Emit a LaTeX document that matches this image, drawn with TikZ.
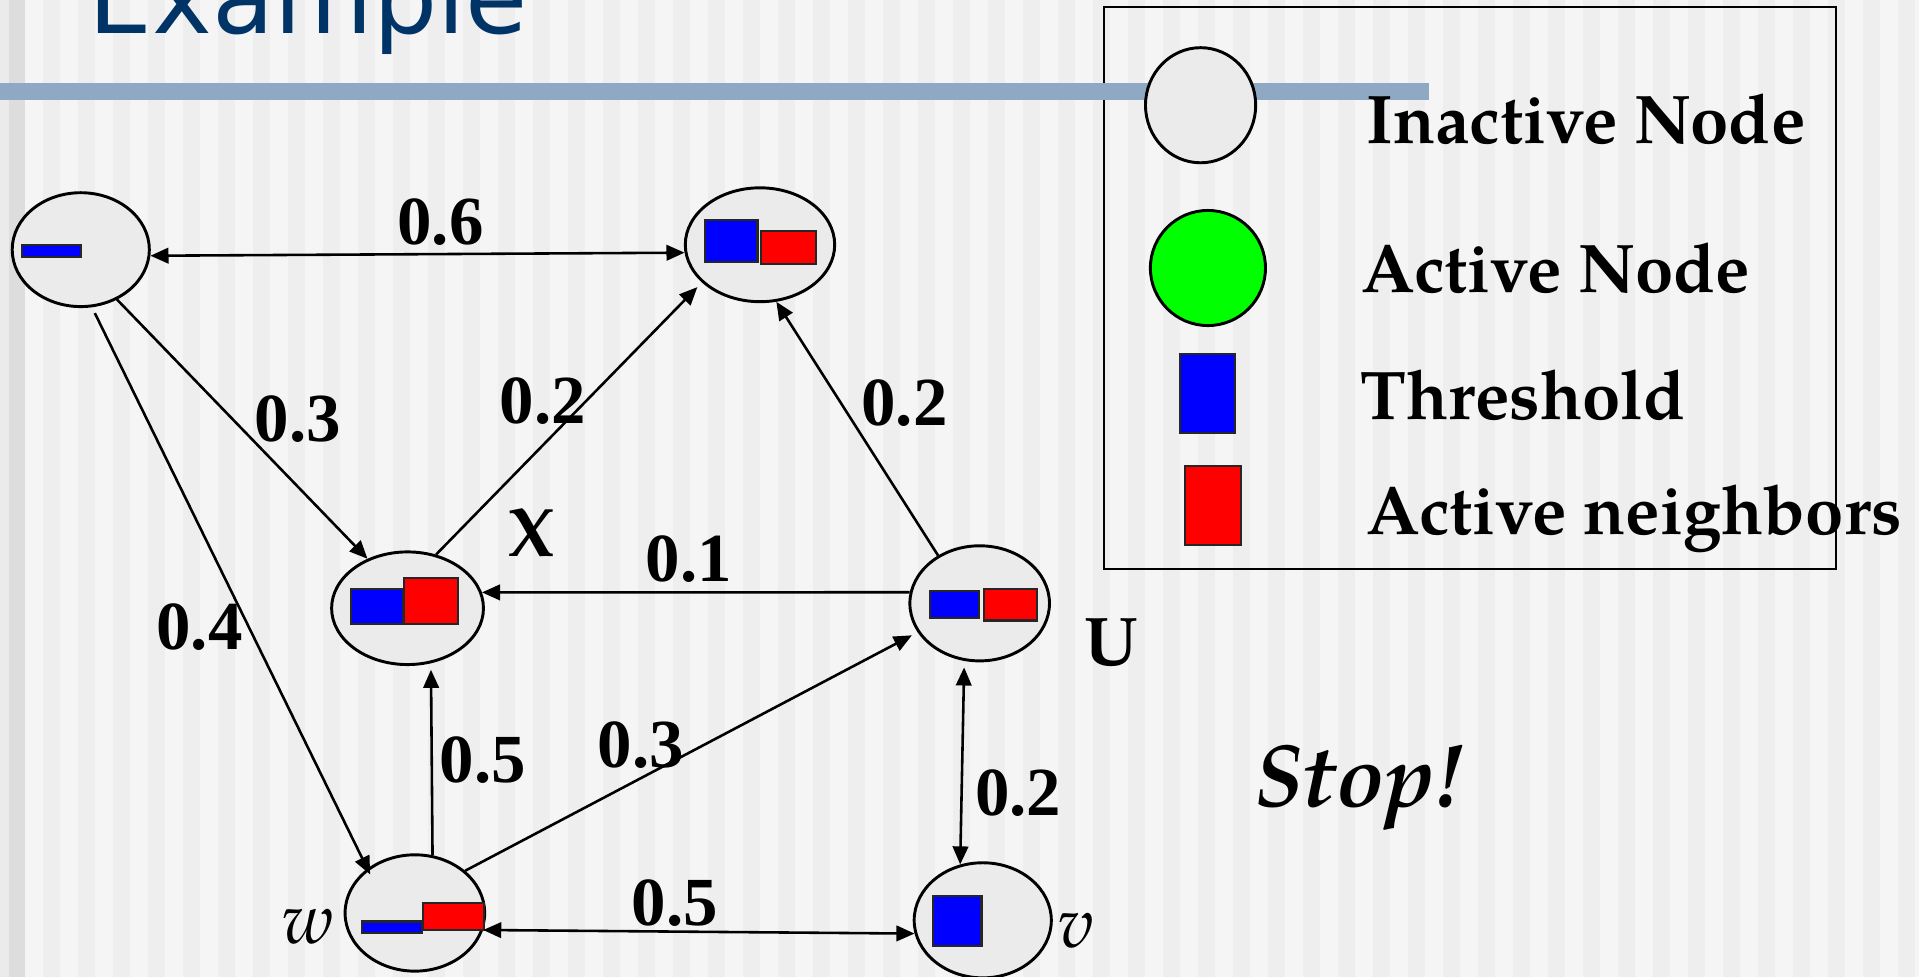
\documentclass[tikz,border=0pt]{standalone}
\usepackage{fontspec}
\setmainfont{texgyrepagella}[Extension=.otf,UprightFont=*-regular,BoldFont=*-bold,ItalicFont=*-italic,BoldItalicFont=*-bolditalic]
\newfontfamily\numfont{Liberation Serif}
\newfontfamily\titlefont{DejaVu Sans}
\usetikzlibrary{shapes.geometric,arrows.meta}
\definecolor{bgbase}{HTML}{F5F5F5}
\definecolor{bgstripe}{HTML}{EEEEEE}
\definecolor{bandA}{HTML}{EBEBEB}
\definecolor{bandB}{HTML}{DDDDDD}
\definecolor{titleblue}{HTML}{003366}
\definecolor{barblue}{HTML}{8FA9C4}
\definecolor{nodegray}{HTML}{EBEBEB}
\definecolor{actgreen}{HTML}{00FF00}
\tikzset{
  gnode/.style={ellipse, draw=black, line width=0.68pt, fill=nodegray, inner sep=0pt},
  edge/.style={line width=0.6pt, -{Triangle[length=4.2pt,width=3.6pt]}},
  bedge/.style={line width=0.6pt, {Triangle[length=4.2pt,width=3.6pt]}-{Triangle[length=4.2pt,width=3.6pt]}},
  wlabel/.style={font=\numfont\bfseries\fontsize{16}{18}\selectfont, anchor=base, inner sep=0pt},
  txt/.style={font=\bfseries\fontsize{16}{18}\selectfont, anchor=base west, inner sep=0pt},
  thr/.style={draw=black!85, line width=0.5pt, fill=blue},
  act/.style={draw=black!85, line width=0.5pt, fill=red},
}
\begin{document}
\begin{tikzpicture}[x=0.01cm,y=-0.01cm]
\useasboundingbox (0,0) rectangle (1568,798);
\clip (0,0) rectangle (1568,798);
% background
\fill[bgbase] (0,0) rectangle (1568,798);
\foreach \i in {0,...,54} \fill[bgstripe] ({35+28.6*\i},0) rectangle ++(14.3,798);
\fill[bandA] (0,0) rectangle (7.4,798);
\fill[bandB] (7.4,0) rectangle (20.4,798);
% title
\node[font=\titlefont\fontsize{23.5}{28}\selectfont, text=titleblue, anchor=base west, inner sep=0pt] (title) at (72,27) {Example};
% legend frame
\draw[line width=0.5pt] (902,6) rectangle (1500,465);
% title bar
\fill[barblue] (0,67.5) rectangle (1168,81.7);
% legend
\node[gnode, minimum width=0.90cm, minimum height=0.94cm] (LI) at (981,86) {};
\node[ellipse, draw=black, line width=0.68pt, fill=actgreen, inner sep=0pt, minimum width=0.94cm, minimum height=0.94cm] (LA) at (987,219) {};
\draw[thr] (964,289) rectangle (1009,354);
\draw[act] (968,381) rectangle (1014,445);
\node[txt] (tI) at (1116,117) {Inactive Node};
\node[txt] (tA) at (1112,239) {Active Node};
\node[txt] (tT) at (1111,343) {Threshold};
\node[txt] (tN) at (1116,437) {Active neighbors};
% graph nodes
\node[gnode, minimum width=1.12cm, minimum height=0.93cm] (A) at (66,204) {};
\node[gnode, minimum width=1.22cm, minimum height=0.93cm] (B) at (621,200) {};
\node[gnode, minimum width=1.24cm, minimum height=0.92cm] (X) at (333,497) {};
\node[gnode, minimum width=1.14cm, minimum height=0.94cm] (U) at (800.5,493) {};
\node[gnode, minimum width=1.14cm, minimum height=0.95cm] (W) at (339,746) {};
\node[gnode, minimum width=1.12cm, minimum height=0.94cm] (V) at (803,752) {};
% bars inside nodes
\draw[thr] (18,200) rectangle (66,210);
\draw[thr] (576,180) rectangle (619,214);
\draw[act] (622,189) rectangle (667,216);
\draw[thr] (287,481) rectangle (329,510);
\draw[act] (330,472) rectangle (374,510);
\draw[thr] (760,483) rectangle (800,505);
\draw[act] (804,481) rectangle (847,507);
\draw[thr] (295.5,753) rectangle (344.5,762.6);
\draw[act] (345.3,738) rectangle (395.7,760);
\draw[thr] (762,732) rectangle (802,773);
% node labels
\node[font=\bfseries\fontsize{16}{18}\selectfont, anchor=base, inner sep=0pt] (lX) at (434,455) {X};
\node[font=\bfseries\fontsize{16}{18}\selectfont, anchor=base, inner sep=0pt] (lU) at (908,544) {U};
\node[font=\itshape\fontsize{16.5}{18}\selectfont, anchor=base, inner sep=0pt] (lw) at (252,771) {w};
\node[font=\itshape\fontsize{16.5}{18}\selectfont, anchor=base, inner sep=0pt] (lv) at (879.5,774) {v};
\node[font=\bfseries\itshape\fontsize{20.5}{24}\selectfont, anchor=base west, inner sep=0pt] (stop) at (1024,659) {Stop!};
% edges
\draw[bedge] (A.-5) -- (B.186);
\draw[edge] (A.-54) -- (X.129);
\draw[edge, shorten <=1.5pt, shorten >=-1.5pt] (A.-79) -- (W.137);
\draw[edge, shorten >=1.5pt] (X.62) -- (B.213);
\draw[edge] (U.131) -- (B.-74);
\draw[edge] (U.171) -- (X.12);
\draw[edge, shorten >=1.5pt] (W.73) -- (X.-67);
\draw[edge, shorten >=1.5pt] (W.40) -- (U.205);
\draw[bedge] (W.-14) -- (V.191);
\draw[bedge, shorten <=1.5pt] (U.-105) -- (V.112);
% edge weights
\node[wlabel] (w1) at (360,200) {0.6};
\node[wlabel] (w2) at (243.5,361) {0.3};
\node[wlabel] (w3) at (163,531) {0.4};
\node[wlabel] (w4) at (443.5,346) {0.2};
\node[wlabel] (w5) at (739,348) {0.2};
\node[wlabel] (w6) at (563,475) {0.1};
\node[wlabel] (w7) at (394.5,639) {0.5};
\node[wlabel] (w8) at (523.5,627) {0.3};
\node[wlabel] (w9) at (551.5,756) {0.5};
\node[wlabel] (w10) at (832,666) {0.2};
\end{tikzpicture}
\end{document}
